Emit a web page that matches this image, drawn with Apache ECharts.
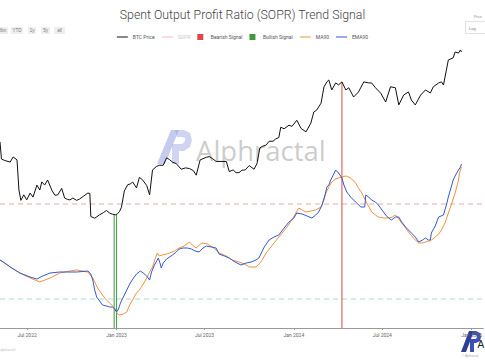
<!DOCTYPE html>
<html>
<head>
<meta charset="utf-8">
<script src="https://cdn.jsdelivr.net/npm/echarts@6/dist/echarts.min.js"></script>
<style>
html,body{margin:0;padding:0;background:#fff;}
#c{width:485px;height:360px;}
</style>
</head>
<body>
<div id="c"></div>
<script>
// ---------- DATA ----------
const priceData = [
['2022-05-06',36200],['2022-05-09',30000],['2022-05-16',29500],['2022-05-27',29000],
['2022-06-02',30700],['2022-06-10',29700],['2022-06-14',21300],['2022-06-18',19000],['2022-06-24',20200],['2022-06-30',19100],
['2022-07-07',20600],['2022-07-13',19700],['2022-07-21',22500],['2022-07-27',21300],['2022-07-31',23300],
['2022-08-06',22500],['2022-08-12',23800],['2022-08-21',21200],['2022-08-27',20100],
['2022-09-02',20200],['2022-09-10',21700],['2022-09-16',19500],['2022-09-22',19200],['2022-09-27',19100],
['2022-10-03',19500],['2022-10-11',19000],['2022-10-17',19300],['2022-10-25',19900],
['2022-11-03',20600],['2022-11-07',20500],['2022-11-09',15900],['2022-11-17',15600],['2022-11-27',16200],
['2022-12-05',16600],['2022-12-11',17000],['2022-12-18',16500],['2022-12-24',16300],['2022-12-30',16200],
['2023-01-03',16400],['2023-01-07',16800],['2023-01-11',17600],['2023-01-17',21100],['2023-01-24',22600],['2023-01-30',22800],
['2023-02-03',23300],['2023-02-11',21800],['2023-02-17',24500],['2023-02-23',23900],
['2023-03-04',22400],['2023-03-10',20200],['2023-03-16',26600],['2023-03-24',27600],['2023-03-30',28000],
['2023-04-07',28000],['2023-04-14',30400],['2023-04-20',29800],['2023-04-26',29000],
['2023-05-04',28500],['2023-05-14',26800],['2023-05-23',27200],['2023-05-31',27000],
['2023-06-08',26400],['2023-06-14',25100],['2023-06-22',29700],['2023-06-28',30100],
['2023-07-05',30600],['2023-07-11',30800],['2023-07-17',30200],['2023-07-25',29200],
['2023-08-04',29200],['2023-08-15',29200],['2023-08-21',26100],['2023-08-29',26600],
['2023-09-04',25800],['2023-09-10',25800],['2023-09-16',26500],['2023-09-23',26600],
['2023-10-01',27900],['2023-10-11',26800],['2023-10-17',28500],['2023-10-23',33900],['2023-10-28',34500],
['2023-11-05',35000],['2023-11-11',36500],['2023-11-19',36500],['2023-11-25',37500],
['2023-12-01',38000],['2023-12-05',42600],['2023-12-12',41900],['2023-12-22',43600],['2023-12-28',43000],
['2024-01-07',46000],['2024-01-16',42000],['2024-01-26',40500],
['2024-02-05',44600],['2024-02-11',50400],['2024-02-17',51500],['2024-02-26',55600],
['2024-03-03',66500],['2024-03-09',70300],['2024-03-13',71800],['2024-03-19',64300],['2024-03-27',69500],
['2024-04-02',68000],['2024-04-09',70300],['2024-04-17',64300],['2024-04-23',65900],
['2024-05-03',59500],['2024-05-13',62900],['2024-05-24',70300],
['2024-06-03',69500],['2024-06-09',69500],['2024-06-17',65900],['2024-06-28',62000],
['2024-07-08',56300],['2024-07-18',66600],['2024-07-28',65900],
['2024-08-04',54500],['2024-08-14',60800],['2024-08-24',62900],['2024-08-30',57500],
['2024-09-07',54500],['2024-09-18',60800],['2024-09-28',64300],
['2024-10-08',62200],['2024-10-14',66600],['2024-10-25',69500],['2024-10-31',70300],
['2024-11-04',67900],['2024-11-10',80100],['2024-11-14',89500],['2024-11-24',91700],['2024-11-28',97800],
['2024-12-05',96700],['2024-12-09',100000],['2024-12-11',97800]
];

const ma90Data = [
['2022-05-06',0.9966],['2022-05-27',0.9938],['2022-06-16',0.9914],['2022-07-07',0.9894],['2022-07-27',0.9878],
['2022-08-17',0.9894],['2022-09-06',0.9914],['2022-09-27',0.9922],['2022-10-11',0.9926],['2022-11-03',0.9918],
['2022-11-13',0.9894],['2022-11-23',0.9854],['2022-12-03',0.9826],['2022-12-11',0.9806],['2022-12-20',0.9790],
['2022-12-28',0.9774],['2023-01-03',0.9750],['2023-01-07',0.9746],['2023-01-15',0.9750],['2023-01-22',0.9758],
['2023-01-28',0.9786],['2023-02-03',0.9806],['2023-02-11',0.9834],['2023-02-17',0.9846],['2023-02-25',0.9870],
['2023-03-04',0.9894],['2023-03-10',0.9918],['2023-03-16',0.9938],['2023-03-22',0.9974],['2023-03-26',0.9994],
['2023-03-30',0.9982],['2023-04-05',0.9986],['2023-04-14',0.9990],['2023-04-20',0.9994],['2023-04-30',1.0002],
['2023-05-10',1.0014],['2023-05-20',1.0022],['2023-05-31',1.0038],['2023-06-06',1.0026],['2023-06-14',1.0014],
['2023-06-20',1.0026],['2023-06-26',1.0034],['2023-07-07',1.0030],['2023-07-17',1.0018],['2023-07-25',1.0006],
['2023-07-31',0.9994],['2023-08-15',0.9982],['2023-08-27',0.9966],['2023-09-10',0.9958],['2023-09-21',0.9950],
['2023-10-01',0.9938],['2023-10-15',0.9938],['2023-10-25',0.9958],['2023-11-05',0.9994],['2023-11-21',1.0034],
['2023-12-08',1.0074],['2023-12-18',1.0098],['2023-12-28',1.0126],['2024-01-05',1.0154],['2024-01-11',1.0174],
['2024-01-18',1.0166],['2024-01-26',1.0158],['2024-02-05',1.0162],['2024-02-15',1.0166],['2024-02-26',1.0178],
['2024-03-03',1.0206],['2024-03-07',1.0234],['2024-03-13',1.0258],['2024-03-19',1.0278],['2024-03-27',1.0290],
['2024-04-02',1.0294],['2024-04-09',1.0298],['2024-04-17',1.0302],['2024-04-23',1.0298],['2024-04-29',1.0290],
['2024-05-07',1.0274],['2024-05-13',1.0254],['2024-05-20',1.0234],['2024-05-26',1.0210],['2024-05-30',1.0194],
['2024-06-05',1.0174],['2024-06-09',1.0158],['2024-06-17',1.0146],['2024-06-23',1.0138],['2024-07-04',1.0134],
['2024-07-14',1.0134],['2024-07-22',1.0138],['2024-07-28',1.0146],['2024-08-04',1.0130],['2024-08-10',1.0114],
['2024-08-18',1.0094],['2024-08-24',1.0078],['2024-09-03',1.0054],['2024-09-14',1.0034],['2024-09-22',1.0034],
['2024-09-28',1.0038],['2024-10-04',1.0042],['2024-10-08',1.0042],['2024-10-18',1.0058],['2024-10-25',1.0070],
['2024-10-31',1.0086],['2024-11-08',1.0118],['2024-11-14',1.0154],['2024-11-22',1.0198],['2024-11-28',1.0234],
['2024-12-05',1.0286],['2024-12-07',1.0314],['2024-12-11',1.0338]
];

const ema90Data = [
['2022-05-06',0.9966],['2022-05-16',0.9954],['2022-05-27',0.9938],['2022-06-16',0.9914],['2022-07-07',0.9898],
['2022-07-21',0.9890],['2022-08-02',0.9902],['2022-08-17',0.9914],['2022-09-06',0.9918],['2022-09-20',0.9918],
['2022-10-11',0.9918],['2022-11-03',0.9922],['2022-11-09',0.9910],['2022-11-13',0.9886],['2022-11-17',0.9846],
['2022-11-21',0.9818],['2022-11-27',0.9802],['2022-12-03',0.9786],['2022-12-11',0.9782],['2022-12-18',0.9778],
['2022-12-24',0.9778],['2022-12-28',0.9770],['2023-01-01',0.9758],['2023-01-05',0.9770],['2023-01-09',0.9794],
['2023-01-13',0.9810],['2023-01-22',0.9846],['2023-01-28',0.9870],['2023-02-05',0.9894],['2023-02-11',0.9910],
['2023-02-19',0.9922],['2023-02-25',0.9914],['2023-03-04',0.9902],['2023-03-10',0.9886],['2023-03-14',0.9918],
['2023-03-20',0.9946],['2023-03-28',0.9974],['2023-04-01',0.9950],['2023-04-03',0.9934],['2023-04-07',0.9954],
['2023-04-14',0.9970],['2023-04-20',0.9978],['2023-04-26',0.9986],['2023-05-04',0.9998],['2023-05-10',1.0010],
['2023-05-18',1.0014],['2023-05-27',1.0014],['2023-06-04',1.0010],['2023-06-12',1.0002],['2023-06-20',0.9998],
['2023-06-28',1.0014],['2023-07-05',1.0022],['2023-07-15',1.0018],['2023-07-25',1.0014],['2023-07-31',0.9990],
['2023-08-11',0.9982],['2023-08-21',0.9974],['2023-09-02',0.9958],['2023-09-14',0.9946],['2023-09-25',0.9954],
['2023-10-05',0.9958],['2023-10-15',0.9966],['2023-10-21',0.9974],['2023-11-01',1.0018],['2023-11-11',1.0046],
['2023-11-21',1.0058],['2023-12-01',1.0066],['2023-12-12',1.0094],['2023-12-22',1.0118],['2024-01-01',1.0134],
['2024-01-07',1.0154],['2024-01-18',1.0150],['2024-01-28',1.0142],['2024-02-07',1.0134],['2024-02-15',1.0146],
['2024-02-21',1.0158],['2024-02-28',1.0186],['2024-03-05',1.0226],['2024-03-09',1.0258],['2024-03-13',1.0266],
['2024-03-17',1.0286],['2024-03-21',1.0302],['2024-03-27',1.0326],['2024-04-02',1.0314],['2024-04-09',1.0294],
['2024-04-13',1.0266],['2024-04-19',1.0238],['2024-04-27',1.0218],['2024-05-07',1.0198],['2024-05-18',1.0178],
['2024-05-26',1.0178],['2024-05-28',1.0226],['2024-06-03',1.0218],['2024-06-09',1.0206],['2024-06-17',1.0198],
['2024-06-23',1.0186],['2024-07-02',1.0162],['2024-07-08',1.0146],['2024-07-14',1.0134],['2024-07-20',1.0126],
['2024-07-28',1.0138],['2024-08-04',1.0138],['2024-08-10',1.0118],['2024-08-18',1.0098],['2024-08-28',1.0078],
['2024-09-07',1.0058],['2024-09-14',1.0038],['2024-09-22',1.0046],['2024-09-28',1.0054],['2024-10-04',1.0046],
['2024-10-08',1.0046],['2024-10-10',1.0074],['2024-10-18',1.0102],['2024-10-25',1.0138],['2024-11-04',1.0146],
['2024-11-10',1.0186],['2024-11-14',1.0218],['2024-11-20',1.0258],['2024-11-24',1.0286],['2024-11-30',1.0310],
['2024-12-05',1.0326],['2024-12-09',1.0338],['2024-12-11',1.0350]
];

const bullishDates = ['2022-12-27', '2023-01-01'];
const bullishPrices = [16300, 16300];
const bearishDates = ['2024-04-09'];
const bearishPrices = [70300];

const soprThresholds = [1.019, 0.981];
const thresholdColors = ['#eeaaaa', '#a8dcd8'];
const tickMonths = ['2022-07-01','2023-01-01','2023-07-01','2024-01-01','2024-07-01','2025-01-01'];
const monthNames = ['Jan','Feb','Mar','Apr','May','Jun','Jul','Aug','Sep','Oct','Nov','Dec'];

const X_MIN = '2022-05-06', X_MAX = '2025-01-25';
const PRICE_MIN = 4642, PRICE_MAX = 111650;
const SOPR_MIN = 0.9694, SOPR_MAX = 1.0846;

// ---------- CHART ----------
function toTs(s){ const p = s.split('-'); return Date.UTC(+p[0], +p[1]-1, +p[2]); }
const tickTs = tickMonths.map(toTs);
const conv = arr => arr.map(p => [toTs(p[0]), p[1]]);

const signalSeries = [];
bullishDates.forEach((d, i) => signalSeries.push({
  name: 'Bullish Signal', type: 'line', yAxisIndex: 0, symbol: 'none', silent: true,
  color: '#3d9b3d', lineStyle: { width: 1, color: '#3d9b3d' }, z: 1,
  data: [[toTs(d), bullishPrices[i]], [toTs(d), PRICE_MIN]]
}));
bearishDates.forEach((d, i) => signalSeries.push({
  name: 'Bearish Signal', type: 'line', yAxisIndex: 0, symbol: 'none', silent: true,
  color: '#e0474c', lineStyle: { width: 1, color: '#e0474c' }, z: 1,
  data: [[toTs(d), bearishPrices[i]], [toTs(d), PRICE_MIN]]
}));
const thresholdSeries = soprThresholds.map((v, i) => ({
  name: 'threshold' + i, type: 'line', yAxisIndex: 1, symbol: 'none', silent: true, z: 0,
  lineStyle: { width: 1, color: thresholdColors[i], type: [5, 4] },
  data: [[toTs(X_MIN), v], [toTs(X_MAX), v]]
}));

const chart = echarts.init(document.getElementById('c'), null, { renderer: 'svg' });
const FONT = 'Roboto, "Noto Sans", sans-serif';
const sq = 'path://M0,0h10v10h-10z';
const ln = 'path://M0,0h22v2h-22z';

chart.setOption({
  animation: false,
  backgroundColor: '#ffffff',
  textStyle: { fontFamily: FONT },
  title: {
    text: 'Spent Output Profit Ratio (SOPR) Trend Signal',
    left: 'center', top: 4,
    textStyle: { fontSize: 12.3, fontWeight: 300, color: '#444', fontFamily: FONT }
  },
  legend: {
    left: 'center', top: 34, padding: 0,
    itemWidth: 11, itemHeight: 6, itemGap: 7,
    textStyle: { fontSize: 5, color: '#555' },
    data: [
      { name: 'BTC Price', icon: ln },
      { name: 'SOPR', icon: ln, textStyle: { color: '#c9c9c9' } },
      { name: 'Bearish Signal', icon: sq },
      { name: 'Bullish Signal', icon: sq },
      { name: 'MA90', icon: ln },
      { name: 'EMA90', icon: ln }
    ]
  },
  grid: { left: 0, right: 0, top: 40, bottom: 32, containLabel: false },
  xAxis: {
    type: 'value', min: toTs(X_MIN), max: toTs(X_MAX),
    axisLine: { lineStyle: { color: '#9a9a9a', width: 1 } },
    axisTick: { show: true, length: 2, lineStyle: { color: '#9a9a9a' }, customValues: tickTs },
    axisLabel: {
      customValues: tickTs, fontSize: 5, color: '#666', margin: 4, showMinLabel: true, showMaxLabel: true,
      formatter: v => { const d = new Date(v); return monthNames[d.getUTCMonth()] + ' ' + d.getUTCFullYear(); }
    },
    splitLine: { show: false }
  },
  yAxis: [
    { type: 'log', logBase: 10, min: PRICE_MIN, max: PRICE_MAX, show: false, splitLine: { show: false } },
    { type: 'value', min: SOPR_MIN, max: SOPR_MAX, show: false, splitLine: { show: false } }
  ],
  series: [
    ...thresholdSeries,
    { name: 'BTC Price', type: 'line', yAxisIndex: 0, symbol: 'none', color: '#111',
      lineStyle: { width: 1, color: '#111' }, z: 3, data: conv(priceData) },
    { name: 'SOPR', type: 'line', yAxisIndex: 1, symbol: 'none', color: '#f5b8c4',
      lineStyle: { width: 1 }, data: [] },
    ...signalSeries,
    { name: 'MA90', type: 'line', yAxisIndex: 1, symbol: 'none', color: '#f0913e',
      lineStyle: { width: 1, color: '#f0913e' }, z: 2, data: conv(ma90Data) },
    { name: 'EMA90', type: 'line', yAxisIndex: 1, symbol: 'none', color: '#3558d0',
      lineStyle: { width: 1, color: '#3558d0' }, z: 2, data: conv(ema90Data) }
  ],
  graphic: [
    { type: 'group', children: [
      { type: 'rect', shape: { x: -3, y: 27, width: 11, height: 7 }, style: { fill: '#efefef' } },
      { type: 'text', x: 3, y: 30.5, style: { text: '6m', fontSize: 4.5, fill: '#777', align: 'center', verticalAlign: 'middle' } },
      { type: 'rect', shape: { x: 11, y: 27, width: 12, height: 7 }, style: { fill: '#efefef' } },
      { type: 'text', x: 17, y: 30.5, style: { text: 'YTD', fontSize: 4.5, fill: '#777', align: 'center', verticalAlign: 'middle' } },
      { type: 'rect', shape: { x: 28, y: 27, width: 8, height: 7 }, style: { fill: '#efefef' } },
      { type: 'text', x: 32, y: 30.5, style: { text: '1y', fontSize: 4.5, fill: '#777', align: 'center', verticalAlign: 'middle' } },
      { type: 'rect', shape: { x: 41, y: 27, width: 9, height: 7 }, style: { fill: '#efefef' } },
      { type: 'text', x: 45.5, y: 30.5, style: { text: '5y', fontSize: 4.5, fill: '#777', align: 'center', verticalAlign: 'middle' } },
      { type: 'rect', shape: { x: 54, y: 27, width: 11, height: 7 }, style: { fill: '#efefef' } },
      { type: 'text', x: 59.5, y: 30.5, style: { text: 'all', fontSize: 4.5, fill: '#777', align: 'center', verticalAlign: 'middle' } }
    ]},
    { type: 'group', children: [
      { type: 'text', x: 474, y: 16.5, style: { text: 'Price', fontSize: 3.5, fill: '#888', verticalAlign: 'middle' } },
      { type: 'rect', shape: { x: 465.5, y: 21.5, width: 24, height: 12 }, style: { fill: '#fff', stroke: '#e2e2e2', lineWidth: 1 } },
      { type: 'text', x: 469, y: 28, style: { text: 'Log', fontSize: 4, fill: '#777', verticalAlign: 'middle' } }
    ]},
    { type: 'group', z: 0, children: [
      { type: 'polygon', shape: { points: [[157,164],[171,130],[179,130],[165,164]] }, style: { fill: 'rgba(150,160,225,0.55)' } },
      { type: 'polygon', shape: { points: [[175,130],[184,130],[190,133],[192,140],[190,147],[184,151],[179,151],[179,164],[172,164],[172,144],[182,144],[185,141],[185,138],[182,137],[177,137]] }, style: { fill: 'rgba(150,160,225,0.45)' } },
      { type: 'text', x: 196, y: 150, style: { text: 'Alphractal', fontSize: 27.5, fontFamily: '"Open Sans", sans-serif', fill: 'rgba(160,160,160,0.55)', verticalAlign: 'middle' } }
    ]},
    { type: 'group', children: [
      { type: 'text', x: 0, y: 350, style: { text: 'alphractal', fontSize: 3.5, fill: '#bbb', verticalAlign: 'middle' } },
      { type: 'polygon', shape: { points: [[461,352],[469,331],[474,331],[466,352]] }, style: { fill: '#2c3d98' } },
      { type: 'polygon', shape: { points: [[472,331],[476,331],[480,333],[481,337],[480,341],[476,343],[474,343],[474,352],[470,352],[470,339],[476,339],[477,337],[476,335],[473,335]] }, style: { fill: '#3a50b8' } },
      { type: 'text', x: 477.5, y: 344.5, style: { text: 'A', fontSize: 10, fill: '#222', verticalAlign: 'middle' } },
      { type: 'text', x: 462, y: 355.5, style: { text: '© Alphractal', fontSize: 3, fill: '#aaa', verticalAlign: 'middle' } }
    ]}
  ]
});
</script>
</body>
</html>
